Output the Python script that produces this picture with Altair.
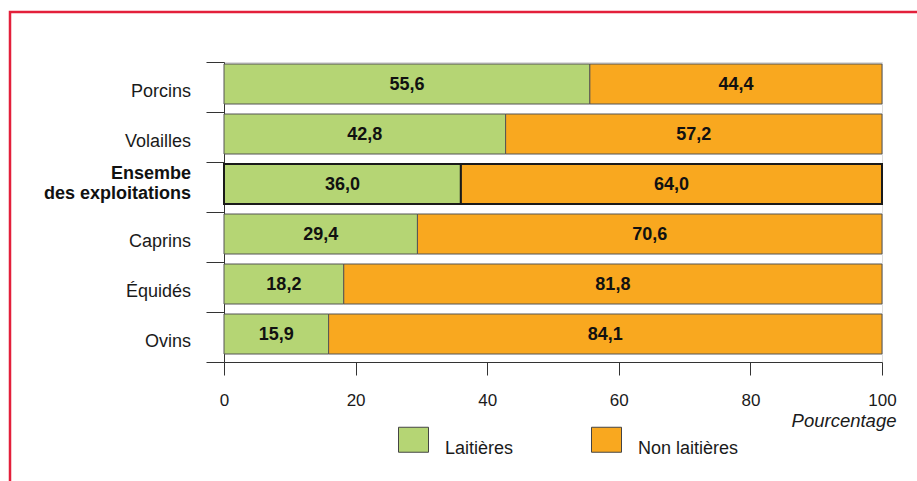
import altair as alt
import pandas as pd

FONT = "Liberation Sans"

# Categories, top to bottom
categories = ["Porcins", "Volailles", "Ensembe des exploitations", "Caprins", "Équidés", "Ovins"]
category_labels = ["Porcins", "Volailles", "Ensembe\ndes exploitations", "Caprins", "Équidés", "Ovins"]
highlighted = "Ensembe des exploitations"

# Share of farms (%)
laitieres = [55.6, 42.8, 36.0, 29.4, 18.2, 15.9]
non_laitieres = [44.4, 57.2, 64.0, 70.6, 81.8, 84.1]

types = ["Laitières", "Non laitières"]
colors = ["#b5d574", "#f9a81f"]
x_ticks = [0, 20, 40, 60, 80, 100]

rows = []
for cat, l, n in zip(categories, laitieres, non_laitieres):
    for ordre, (t, v) in enumerate(zip(types, [l, n])):
        rows.append({
            "categorie": cat,
            "type": t,
            "valeur": v,
            "ordre": ordre,
            "label": f"{v:.1f}".replace(".", ","),
        })
df = pd.DataFrame(rows)

df_cat = pd.DataFrame({
    "categorie": categories,
    "texte": category_labels,
    "mis_en_avant": [c == highlighted for c in categories],
})

is_hl = f"datum.categorie == '{highlighted}'"

# Band boundaries carry the category ticks
y_axis = alt.Axis(
    labels=False, title=None, tickBand="extent", tickSize=18,
    domainColor="#333333", tickColor="#333333", grid=False,
)
y_scale = alt.Scale(paddingInner=0, paddingOuter=0)

x_axis = alt.Axis(
    values=x_ticks, title="Pourcentage", grid=False, labelFlush=False,
    tickSize=13, tickColor="#333333", domainColor="#333333",
    labelFontSize=17, labelColor="#1a1a1a", labelPadding=17, labelFont=FONT,
    titleFont=FONT, titleFontSize=18.5, titleFontStyle="italic", titleFontWeight="normal",
    titleColor="#1a1a1a", titleAnchor="end", titleAlign="right",
    titleX=672, titleY=49, titleBaseline="top",
)
x_scale = alt.Scale(domain=[0, 100], nice=False)

bars = alt.Chart(df).mark_bar(height=40, yOffset=-3).encode(
    y=alt.Y("categorie:N", sort=categories, scale=y_scale, axis=y_axis),
    x=alt.X("valeur:Q", stack="zero", scale=x_scale, axis=x_axis),
    color=alt.Color(
        "type:N",
        scale=alt.Scale(domain=types, range=colors),
        legend=alt.Legend(
            title=None, orient="none", legendX=174, legendY=362, direction="horizontal",
            symbolType="M-1,-0.833L1,-0.833L1,0.833L-1,0.833Z", symbolSize=900,
            symbolStrokeColor="#444444", symbolStrokeWidth=1, symbolOpacity=1,
            labelFont=FONT, labelFontSize=18, labelColor="#1a1a1a", labelOffset=16,
            labelBaseline="top", columnPadding=75, padding=0,
        ),
    ),
    order=alt.Order("ordre:Q"),
    stroke=alt.condition(is_hl, alt.value("#1a1a1a"), alt.value("#555555")),
    strokeWidth=alt.condition(is_hl, alt.value(2), alt.value(1)),
)

value_text = alt.Chart(df).transform_stack(
    stack="valeur", groupby=["categorie"], as_=["v0", "v1"], sort=[alt.SortField("ordre")]
).transform_calculate(
    mid="(datum.v0 + datum.v1) / 2"
).mark_text(
    font=FONT, fontSize=18, fontWeight="bold", color="#111111", yOffset=-2
).encode(
    y=alt.Y("categorie:N", sort=categories, scale=y_scale, axis=y_axis),
    x=alt.X("mid:Q", scale=x_scale, axis=x_axis),
    text="label:N",
)

cat_text = alt.Chart(df_cat).transform_filter("!datum.mis_en_avant").mark_text(
    font=FONT, fontSize=18, align="right", color="#1a1a1a", yOffset=5
).encode(
    y=alt.Y("categorie:N", sort=categories, scale=y_scale, axis=y_axis),
    x=alt.value(-33),
    text="texte:N",
)

cat_text_hl = alt.Chart(df_cat).transform_filter("datum.mis_en_avant").mark_text(
    font=FONT, fontSize=18, fontWeight="bold", align="right", color="#111111",
    lineBreak="\n", lineHeight=20, yOffset=-13
).encode(
    y=alt.Y("categorie:N", sort=categories, scale=y_scale, axis=y_axis),
    x=alt.value(-33),
    text="texte:N",
)

frame = alt.Chart(pd.DataFrame({"k": [0]})).mark_rect(
    filled=False, color="#e3203b", strokeWidth=2.5
).encode(
    x=alt.value(-214), x2=alt.value(720), y=alt.value(-50), y2=alt.value(440)
)

chart = alt.layer(bars, value_text, cat_text, cat_text_hl, frame).properties(
    width=658,
    height=300,
    autosize=alt.AutoSizeParams(type="none"),
    padding={"left": 224, "top": 62, "right": 35, "bottom": 119},
    background="white",
).configure_view(stroke=None).configure(font=FONT)

chart.save("out.html", embed_options={"renderer": "svg", "actions": False})
